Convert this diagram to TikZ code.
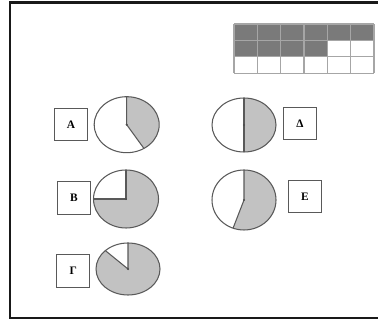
\documentclass[tikz,border=0pt]{standalone}
\usepackage{fontspec}
\setmainfont{Liberation Serif}
\begin{document}
\begin{tikzpicture}[
        x=0.02cm,
        y=0.02cm,
        frame/.style={
            line width=1.7pt,
            draw=black!90
        },
        cellShaded/.style={
            fill=black!52
        },
        cellLine/.style={
            draw=black!35,
            line width=0.7pt
        },
        slice/.style={
            fill=black!24
        },
        pie/.style={
            draw=black!65,
            line width=0.6pt
        },
        letterBox/.style={
            rectangle,
            draw=black!65,
            line width=0.6pt,
            fill=white,
            minimum width=0.66cm,
            minimum height=0.65cm,
            inner sep=0pt,
            font=\fontsize{6.5}{7}\selectfont\bfseries
        }
    ]

        \useasboundingbox (0,0) rectangle (378,320);

        % outer frame, right side runs off the page
        \draw[frame] (380,317) -- (10,317) -- (10,2) -- (380,2);

        % grid 6 x 3, ten cells shaded
        \fill[cellShaded] (234,279.6) rectangle (374,296);
        \fill[cellShaded] (234,263.2) rectangle (327.2,279.6);
        \foreach \i in {0,...,6} {
            \draw[cellLine] ({234+23.33*\i},246.8) -- ({234+23.33*\i},296);
        }
        \foreach \j in {0,...,3} {
            \draw[cellLine] (234,{246.8+16.4*\j}) -- (374,{246.8+16.4*\j});
        }

        % pies: centre x, centre y, x radius, y radius, start, end of shaded part
        \foreach \cx/\cy/\rx/\ry/\s/\e in {
            126.7/195.3/32.5/28/-58/90,
            244/195/32/27/-90/90,
            126/121/32.5/29/-180/90,
            244/120/32/30/-110/90,
            128/51/32/26/135/450} {
            \fill[slice] (\cx,\cy) -- ++({\rx*cos(\s)},{\ry*sin(\s)})
                arc[start angle=\s, end angle=\e, x radius=\rx, y radius=\ry] -- cycle;
            \draw[pie] (\cx,\cy) ellipse[x radius=\rx, y radius=\ry];
            \draw[pie] ({\cx+\rx*cos(\s)},{\cy+\ry*sin(\s)}) -- (\cx,\cy)
                -- ({\cx+\rx*cos(\e)},{\cy+\ry*sin(\e)});
            \fill[black!70] (\cx,\cy) circle[radius=1.2];
        }

        \node[letterBox] (boxA) at (71,195.5) {Α};
        \node[letterBox] (boxD) at (300,196.7) {Δ};
        \node[letterBox] (boxB) at (74,122) {Β};
        \node[letterBox] (boxE) at (305,123.3) {Ε};
        \node[letterBox] (boxG) at (73.3,49) {Γ};

    \end{tikzpicture}
\end{document}
